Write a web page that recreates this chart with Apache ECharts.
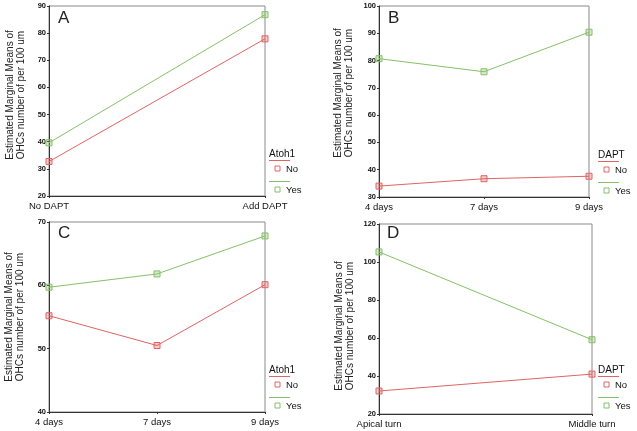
<!DOCTYPE html>
<html><head><meta charset="utf-8">
<script src="https://cdn.jsdelivr.net/npm/echarts@6/dist/echarts.min.js"></script>
<style>html,body{margin:0;padding:0;background:#fff}#c{width:637px;height:431px}</style>
</head><body><div id="c"></div>
<script>
// Panel A
const catsA = ['No DAPT', 'Add DAPT'];
const aNo = [32.7, 77.9];
const aYes = [39.6, 86.8];
// Panel B
const catsB = ['4 days', '7 days', '9 days'];
const bNo = [34.0, 36.7, 37.6];
const bYes = [80.7, 75.9, 90.4];
// Panel C
const catsC = ['4 days', '7 days', '9 days'];
const cNo = [55.2, 50.5, 60.1];
const cYes = [59.7, 61.8, 67.8];
// Panel D
const catsD = ['Apical turn', 'Middle turn'];
const dNo = [32.1, 41.0];
const dYes = [105.3, 59.1];
// Axis ranges
const yRanges = [[20, 90, 10], [30, 100, 10], [40, 70, 10], [20, 120, 20]];
const letters = ['A', 'B', 'C', 'D'];
const legendTitles = ['Atoh1', 'DAPT', 'Atoh1', 'DAPT'];
const legendItems = ['No', 'Yes'];
const yTitle = 'Estimated Marginal Means of\nOHCs number of per 100 um';

const RED = '#e06464', GREEN = '#86c068';
const FONT = '"Liberation Sans", Arial, sans-serif';

const grids = [
  {left: 49, top: 6, width: 216, height: 190},
  {left: 379, top: 6, width: 210, height: 191},
  {left: 49, top: 222, width: 216, height: 190},
  {left: 379, top: 224, width: 213, height: 190}
];
const cats = [catsA, catsB, catsC, catsD];
const dataNo = [aNo, bNo, cNo, dNo];
const dataYes = [aYes, bYes, cYes, dYes];

const option = {
  animation: false,
  backgroundColor: '#fff',
  grid: grids.map(g => Object.assign({show: true, borderColor: '#8a8a8a', borderWidth: 1, backgroundColor: 'transparent'}, g)),
  xAxis: grids.map((g, i) => ({
    type: 'category', gridIndex: i, data: cats[i], boundaryGap: false,
    axisLine: {lineStyle: {color: '#333', width: 1}},
    axisTick: {show: true, length: 2, lineStyle: {color: '#333'}},
    axisLabel: {color: '#111', fontFamily: FONT, fontSize: 9.5, margin: 5}
  })),
  yAxis: grids.map((g, i) => ({
    type: 'value', gridIndex: i, min: yRanges[i][0], max: yRanges[i][1], interval: yRanges[i][2],
    splitLine: {show: false},
    axisLine: {show: true, lineStyle: {color: '#333', width: 1}},
    axisTick: {show: true, length: 2, lineStyle: {color: '#333'}},
    axisLabel: {color: '#111', fontFamily: FONT, fontSize: 7.5, fontWeight: 'bold', margin: 3}
  })),
  series: [],
  graphic: []
};

const mkSeries = (i, data, color, name) => ({
  type: 'line', name: name, xAxisIndex: i, yAxisIndex: i, data: data,
  symbol: 'rect', symbolSize: 6,
  lineStyle: {color: color, width: 1},
  itemStyle: {color: color + '55', borderColor: color, borderWidth: 1}
});
for (let i = 0; i < 4; i++) {
  option.series.push(mkSeries(i, dataNo[i], RED, legendItems[0]));
  option.series.push(mkSeries(i, dataYes[i], GREEN, legendItems[1]));
}

// Letters
const letterPos = [[58, 10], [388, 10], [58, 225], [387, 225]];
letterPos.forEach((p, i) => option.graphic.push({
  type: 'text', left: p[0], top: p[1],
  style: {text: letters[i], font: '17px ' + FONT, fill: '#222'}
}));

// Y titles
const yTitlePos = [[15.5, 95], [344, 93], [15, 317], [345, 326]];
yTitlePos.forEach(p => option.graphic.push({
  type: 'text', x: p[0], y: p[1], rotation: Math.PI / 2,
  style: {text: yTitle, font: '10px ' + FONT, fill: '#222', align: 'center', verticalAlign: 'middle', lineHeight: 11}
}));

// Legends
const legPos = [[269, 154], [598, 155], [269, 370], [598, 370]];
legPos.forEach((p, i) => {
  const x = p[0], y = p[1];
  option.graphic.push({type: 'text', x: x, y: y, style: {text: legendTitles[i], font: '10px ' + FONT, fill: '#111', verticalAlign: 'middle'}});
  option.graphic.push({type: 'line', shape: {x1: x, y1: y + 6.5, x2: x + 21, y2: y + 6.5}, style: {stroke: RED, lineWidth: 1}});
  option.graphic.push({type: 'rect', shape: {x: x + 6, y: y + 12, width: 5, height: 5}, style: {fill: 'transparent', stroke: RED, lineWidth: 1}});
  option.graphic.push({type: 'text', x: x + 17, y: y + 15, style: {text: legendItems[0], font: '9.5px ' + FONT, fill: '#111', verticalAlign: 'middle'}});
  option.graphic.push({type: 'line', shape: {x1: x, y1: y + 27.5, x2: x + 21, y2: y + 27.5}, style: {stroke: GREEN, lineWidth: 1}});
  option.graphic.push({type: 'rect', shape: {x: x + 6, y: y + 33, width: 5, height: 5}, style: {fill: 'transparent', stroke: GREEN, lineWidth: 1}});
  option.graphic.push({type: 'text', x: x + 17, y: y + 36, style: {text: legendItems[1], font: '9.5px ' + FONT, fill: '#111', verticalAlign: 'middle'}});
});

const chart = echarts.init(document.getElementById('c'), null, {renderer: 'canvas'});
chart.setOption(option);
</script></body></html>
